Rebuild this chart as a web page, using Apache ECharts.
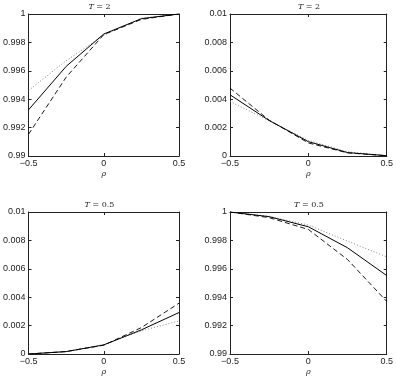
<!DOCTYPE html>
<html><head><meta charset="utf-8">
<script src="https://cdn.jsdelivr.net/npm/echarts@6/dist/echarts.min.js"></script>
<style>html,body{margin:0;padding:0;background:#fff}#c{width:396px;height:378px}</style>
</head><body><div id="c"></div>
<script>
const rho = [-0.5, -0.25, 0, 0.25, 0.5];
const titles = ['T = 2', 'T = 2', 'T = 0.5', 'T = 0.5'];
// panel 1: top-left
const p1Solid  = [0.99325, 0.99631, 0.99859, 0.99967, 1.0];
const p1Dashed = [0.99153, 0.99555, 0.99855, 0.99962, 1.0];
const p1Dotted = [0.99461, 0.99671, 0.99850, 0.99970, 1.0];
// panel 2: top-right
const p2Solid  = [0.00431, 0.00250, 0.00101, 0.00024, 0.00002];
const p2Dashed = [0.00478, 0.00252, 0.00092, 0.00022, 0.00002];
const p2Dotted = [0.00384, 0.00248, 0.00110, 0.00030, 0.00002];
// panel 3: bottom-left
const p3Solid  = [0.00000, 0.00017, 0.00064, 0.00170, 0.00292];
const p3Dashed = [0.00000, 0.00017, 0.00062, 0.00186, 0.00358];
const p3Dotted = [0.00000, 0.00017, 0.00066, 0.00163, 0.00233];
// panel 4: bottom-right
const p4Solid  = [1.0, 0.99967, 0.99896, 0.99748, 0.99552];
const p4Dashed = [1.0, 0.99960, 0.99877, 0.99665, 0.99370];
const p4Dotted = [1.0, 0.99970, 0.99908, 0.99795, 0.99684];
const yMin = [0.99, 0, 0, 0.99];
const yMax = [1, 0.01, 0.01, 1];
const yStep = 0.002;

const panels = [
  [p1Solid, p1Dashed, p1Dotted],
  [p2Solid, p2Dashed, p2Dotted],
  [p3Solid, p3Dashed, p3Dotted],
  [p4Solid, p4Dashed, p4Dotted]
];
const grids = [
  {left: 20, top: 14, width: 159, height: 142},
  {left: 230, top: 14, width: 158, height: 142},
  {left: 20, top: 212, width: 159, height: 142},
  {left: 230, top: 212, width: 158, height: 142}
];
const lab = {fontFamily: 'Liberation Sans, Arial, sans-serif', fontSize: 9, color: '#222'};
const fmtNum = v => {
  let s = (+v.toFixed(4)).toString();
  return s.replace('-', '\u2212');
};
const xAxis = [], yAxis = [], series = [], title = [];
grids.forEach((g, i) => {
  const line = {show: true, onZero: false, lineStyle: {color: '#222', width: 1}};
  const tick = {inside: true, length: 3, lineStyle: {color: '#222'}};
  xAxis.push({type: 'value', gridIndex: i, min: -0.5, max: 0.5, interval: 0.5,
    axisLine: line, axisTick: tick,
    splitLine: {show: false}, axisLabel: Object.assign({margin: 3, formatter: fmtNum}, lab),
    name: 'ρ', nameLocation: 'middle', nameGap: 14,
    nameTextStyle: {fontFamily: 'DejaVu Serif, serif', fontStyle: 'italic', fontSize: 8, color: '#222'}});
  xAxis.push({type: 'value', gridIndex: i, position: 'top', min: -0.5, max: 0.5, interval: 0.5,
    axisLine: line, axisTick: tick,
    splitLine: {show: false}, axisLabel: {show: false}});
  yAxis.push({type: 'value', gridIndex: i, min: yMin[i], max: yMax[i], interval: yStep,
    axisLine: line, axisTick: tick,
    splitLine: {show: false}, axisLabel: Object.assign({margin: 3, formatter: fmtNum}, lab)});
  yAxis.push({type: 'value', gridIndex: i, position: 'right', min: yMin[i], max: yMax[i], interval: yStep,
    axisLine: line, axisTick: tick,
    splitLine: {show: false}, axisLabel: {show: false}});
  const styles = [
    {color: '#000', width: 1, type: 'solid'},
    {color: '#000', width: 0.9, type: [5, 3]},
    {color: '#777', width: 0.9, type: [1, 2]}
  ];
  panels[i].forEach((arr, k) => {
    series.push({type: 'line', xAxisIndex: 2 * i, yAxisIndex: 2 * i, symbol: 'none',
      data: rho.map((r, j) => [r, arr[j]]), lineStyle: styles[k], z: 3 - k, silent: true});
  });
  const t = titles[i].split(' = ');
  title.push({text: '{i|' + t[0] + '}{n| = ' + t[1] + '}', left: g.left + g.width / 2, top: g.top - 11,
    textAlign: 'center', padding: 0,
    textStyle: {fontWeight: 'normal', rich: {
      i: {fontFamily: 'DejaVu Serif, serif', fontStyle: 'italic', fontWeight: 'normal', fontSize: 8, color: '#222'},
      n: {fontFamily: 'DejaVu Serif, serif', fontWeight: 'normal', fontSize: 8, color: '#222'}}}});
});
const chart = echarts.init(document.getElementById('c'), null, {renderer: 'canvas'});
chart.setOption({animation: false, backgroundColor: '#fff', title, grid: grids, xAxis, yAxis, series});
</script></body></html>
